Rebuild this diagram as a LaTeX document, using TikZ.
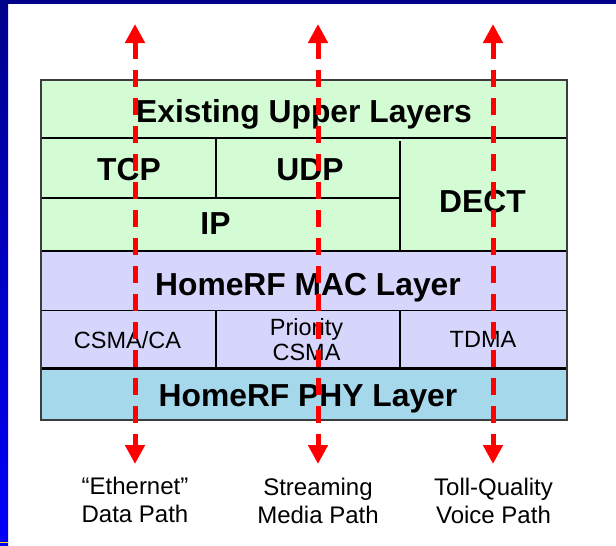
\documentclass[tikz,border=0pt]{standalone}
\usepackage{fontspec}
\setmainfont{Liberation Sans}
\usetikzlibrary{arrows.meta}
\definecolor{navyedge}{RGB}{0,0,140}
\definecolor{blueedge}{RGB}{0,0,250}
\definecolor{upgreen}{RGB}{212,252,212}
\definecolor{maclav}{RGB}{214,214,252}
\definecolor{phyblue}{RGB}{166,216,236}
\definecolor{boxgray}{RGB}{60,60,60}
\tikzset{
  bigt/.style={font=\fontsize{31.8}{37}\selectfont\bfseries, inner sep=0pt, anchor=base},
  midt/.style={font=\fontsize{23.5}{25}\selectfont, inner sep=0pt, anchor=base},
  lowt/.style={font=\fontsize{24}{28}\selectfont, inner sep=0pt, anchor=base},
  sepline/.style={black, line width=1.8pt},
  pathline/.style={red, line width=5pt, dash pattern=on 17pt off 11pt,
    {Triangle[length=19pt,width=19pt]}-{Triangle[length=19pt,width=19pt]}}
}
\begin{document}
\begin{tikzpicture}[x=1pt,y=-1pt]
\useasboundingbox (0,0) rectangle (616,546);
\fill[white] (0,0) rectangle (616,546);
% slide frame
\shade[top color=navyedge, bottom color=blueedge] (0,0) rectangle (8,546);
\fill[navyedge] (0,0) rectangle (616,4);
\fill[yellow!80!orange] (0,541.5) rectangle (8,542.5);
% layer fills
\fill[upgreen] (41,80) rectangle (567,251);
\fill[maclav] (41,251) rectangle (567,368);
\fill[phyblue] (41,368) rectangle (567,420);
% separators
\draw[sepline] (41,138) -- (567,138);
\draw[sepline] (41,198) -- (400,198);
\draw[sepline] (216,138) -- (216,198);
\draw[sepline] (400,141) -- (400,251);
\draw[black, line width=2.5pt] (41,251) -- (567,251);
\draw[black, line width=1pt] (41,310) -- (567,310);
\draw[black, line width=1.3pt] (216,310) -- (216,368);
\draw[black, line width=1.3pt] (400,310) -- (400,368);
\draw[black, line width=3pt] (41,368) -- (567,368);
\draw[boxgray, line width=2pt] (41,80) rectangle (567,420);
% texts
\node[bigt] (upper) at (304,122) {Existing Upper Layers};
\node[bigt] (tcp) at (129,180) {TCP};
\node[bigt] (udp) at (310,180) {UDP};
\node[bigt] (ip) at (215.5,234) {IP};
\node[bigt] (dect) at (482.5,212) {DECT};
\node[bigt] (mac) at (308,295) {HomeRF MAC Layer};
\node[bigt] (phy) at (308,406) {HomeRF PHY Layer};
\node[midt] (csmaca) at (127.5,348) {CSMA/CA};
\node[midt, align=center] (prio) at (306.5,360) {Priority\\CSMA};
\node[midt] (tdma) at (483,347) {TDMA};
\node[lowt, align=center] (eth) at (135,522) {“Ethernet”\\Data Path};
\node[lowt, align=center] (stream) at (318,523) {Streaming\\Media Path};
\node[lowt, align=center] (voice) at (493.5,523) {Toll-Quality\\Voice Path};
% paths
\coordinate (a1) at (135,24); \coordinate (b1) at (135,464);
\coordinate (a2) at (318,24); \coordinate (b2) at (318,464);
\coordinate (a3) at (493,24); \coordinate (b3) at (493,464);
\draw[pathline] (a1) -- (b1);
\draw[pathline] (a2) -- (b2);
\draw[pathline] (a3) -- (b3);
\end{tikzpicture}
\end{document}
